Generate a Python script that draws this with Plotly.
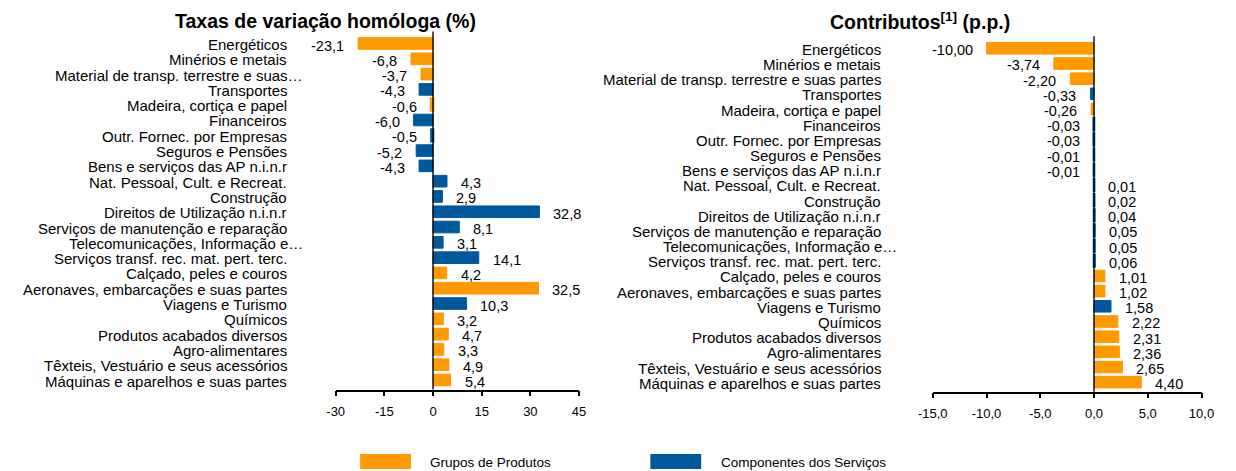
import plotly.graph_objects as go

# ---------------- data ----------------
categories = [
    "Energéticos", "Minérios e metais", "Material de transp. terrestre e suas partes",
    "Transportes", "Madeira, cortiça e papel", "Financeiros", "Outr. Fornec. por Empresas",
    "Seguros e Pensões", "Bens e serviços das AP n.i.n.r", "Nat. Pessoal, Cult. e Recreat.",
    "Construção", "Direitos de Utilização n.i.n.r", "Serviços de manutenção e reparação",
    "Telecomunicações, Informação e Informática", "Serviços transf. rec. mat. pert. terc.",
    "Calçado, peles e couros", "Aeronaves, embarcações e suas partes", "Viagens e Turismo",
    "Químicos", "Produtos acabados diversos", "Agro-alimentares",
    "Têxteis, Vestuário e seus acessórios", "Máquinas e aparelhos e suas partes",
]
left_labels = [
    "Energéticos", "Minérios e metais", "Material de transp. terrestre e suas…",
    "Transportes", "Madeira, cortiça e papel", "Financeiros", "Outr. Fornec. por Empresas",
    "Seguros e Pensões", "Bens e serviços das AP n.i.n.r", "Nat. Pessoal, Cult. e Recreat.",
    "Construção", "Direitos de Utilização n.i.n.r", "Serviços de manutenção e reparação",
    "Telecomunicações, Informação e…", "Serviços transf. rec. mat. pert. terc.",
    "Calçado, peles e couros", "Aeronaves, embarcações e suas partes", "Viagens e Turismo",
    "Químicos", "Produtos acabados diversos", "Agro-alimentares",
    "Têxteis, Vestuário e seus acessórios", "Máquinas e aparelhos e suas partes",
]
right_labels = [
    "Energéticos", "Minérios e metais", "Material de transp. terrestre e suas partes",
    "Transportes", "Madeira, cortiça e papel", "Financeiros", "Outr. Fornec. por Empresas",
    "Seguros e Pensões", "Bens e serviços das AP n.i.n.r", "Nat. Pessoal, Cult. e Recreat.",
    "Construção", "Direitos de Utilização n.i.n.r", "Serviços de manutenção e reparação",
    "Telecomunicações, Informação e…", "Serviços transf. rec. mat. pert. terc.",
    "Calçado, peles e couros", "Aeronaves, embarcações e suas partes", "Viagens e Turismo",
    "Químicos", "Produtos acabados diversos", "Agro-alimentares",
    "Têxteis, Vestuário e seus acessórios", "Máquinas e aparelhos e suas partes",
]
# P = Grupos de Produtos, S = Componentes dos Serviços
groups = ["P", "P", "P", "S", "P", "S", "S", "S", "S", "S", "S", "S", "S", "S", "S",
          "P", "P", "S", "P", "P", "P", "P", "P"]
taxas = [-23.1, -6.8, -3.7, -4.3, -0.6, -6.0, -0.5, -5.2, -4.3, 4.3, 2.9, 32.8, 8.1,
         3.1, 14.1, 4.2, 32.5, 10.3, 3.2, 4.7, 3.3, 4.9, 5.4]
contributos = [-10.00, -3.74, -2.20, -0.33, -0.26, -0.03, -0.03, -0.01, -0.01, 0.01,
               0.02, 0.04, 0.05, 0.05, 0.06, 1.01, 1.02, 1.58, 2.22, 2.31, 2.36, 2.65, 4.40]
left_ticks = [-30, -15, 0, 15, 30, 45]
right_ticks = [-15.0, -10.0, -5.0, 0.0, 5.0, 10.0]
series_names = {"P": "Grupos de Produtos", "S": "Componentes dos Serviços"}
colors = {"P": "#FF9900", "S": "#00589C"}

# The page body has an 8px margin: the figure starts at page (8, 8).
OFF = 8
W, H = 1236 - OFF, 471 - OFF
FONT = "Liberation Sans, Arial, sans-serif"


def px_x(p):  # page pixel -> paper x
    return (p - OFF) / W


def px_y(p):  # page pixel -> paper y
    return (471 - p) / H


def fmt(v, d):
    return f"{v:.{d}f}".replace(".", ",")


fig = go.Figure()

for xa, ya, vals, unit in (("x", "y", taxas, 1.0), ("x2", "y2", contributos, 0.1)):
    for g in ("P", "S"):
        ys = [c for c, gg in zip(categories, groups) if gg == g]
        xs = [v for v, gg in zip(vals, groups) if gg == g]
        # very small bars get a thin outline so they stay visible (as in the original)
        lw = [2.6 if abs(v) < unit else 1.0 for v in xs]
        fig.add_trace(go.Bar(
            x=xs, y=ys, orientation="h", name=series_names[g],
            marker=dict(color=colors[g], line=dict(color=colors[g], width=lw)),
            xaxis=xa, yaxis=ya, showlegend=False, hoverinfo="x+y",
        ))

annotations = []
# category labels
for ref, yref, labels, shift in (("x", "y", left_labels, -47), ("x2", "y2", right_labels, -50)):
    for c, lab in zip(categories, labels):
        extra = 16 if lab.endswith("…") else 0
        annotations.append(dict(
            xref=f"{ref} domain", yref=yref, x=0, y=c, text=lab, showarrow=False,
            xanchor="right", yanchor="middle", xshift=shift + extra, yshift=-1,
            font=dict(family=FONT, size=15, color="#000000"),
        ))

# data labels
for ref, yref, vals, d in (("x", "y", taxas, 1), ("x2", "y2", contributos, 2)):
    for c, v in zip(categories, vals):
        annotations.append(dict(
            xref=ref, yref=yref, x=v, y=c, text=fmt(v, d), showarrow=False,
            xanchor="left" if v >= 0 else "right", yanchor="middle",
            xshift=12 if v >= 0 else -12, yshift=-2,
            font=dict(family=FONT, size=14.5, color="#000000"),
        ))

# titles
annotations.append(dict(
    xref="paper", yref="paper", x=px_x(318), y=px_y(21),
    text="<b>Taxas de variação homóloga (%)</b>",
    showarrow=False, xanchor="center", yanchor="middle",
    font=dict(family=FONT, size=19.5, color="#000000")))
annotations.append(dict(
    xref="paper", yref="paper", x=px_x(926), y=px_y(21),
    text="<b>Contributos<sup>[1]</sup> (p.p.)</b>",
    showarrow=False, xanchor="center", yanchor="middle",
    font=dict(family=FONT, size=19.5, color="#000000")))

# legend
shapes = []
for x0, g, tx in ((353, "P", 422), (650, "S", 720)):
    shapes.append(dict(type="rect", xref="paper", yref="paper",
                       x0=px_x(x0), x1=px_x(x0 + 52), y0=px_y(469), y1=px_y(454),
                       fillcolor=colors[g], line=dict(width=0)))
    annotations.append(dict(
        xref="paper", yref="paper", x=px_x(tx), y=px_y(462), text=series_names[g],
        showarrow=False, xanchor="left", yanchor="middle",
        font=dict(family=FONT, size=13.5, color="#000000")))

# zero lines on top of bars
for ref, yref in (("x", "y"), ("x2", "y2")):
    shapes.append(dict(type="line", xref=ref, yref=f"{yref} domain", x0=0, x1=0, y0=0, y1=1,
                       line=dict(color="#000000", width=1.4), layer="above"))

axis_common = dict(showgrid=False, zeroline=False, showline=True, linecolor="#000000",
                   linewidth=1.5, ticks="outside", ticklen=5, tickwidth=1.5,
                   tickcolor="#000000", tickfont=dict(family=FONT, size=13, color="#000000"),
                   ticklabelstandoff=4, fixedrange=True)
yaxis_common = dict(type="category", categoryorder="array", categoryarray=categories,
                    autorange="reversed", showticklabels=False, showgrid=False,
                    zeroline=False, showline=False, ticks="", fixedrange=True)

fig.update_layout(
    width=W, height=H, margin=dict(l=0, r=0, t=0, b=0),
    paper_bgcolor="white", plot_bgcolor="white",
    barmode="relative", bargap=0.24,
    showlegend=False,
    xaxis=dict(domain=[px_x(328), px_x(577)], range=[-30, 45], tickvals=left_ticks,
               ticktext=[str(t) for t in left_ticks], anchor="y", **axis_common),
    yaxis=dict(domain=[px_y(389.5), px_y(31.5)], anchor="x", **yaxis_common),
    xaxis2=dict(domain=[px_x(939), px_x(1214)], range=[-15, 10], tickvals=right_ticks,
                ticktext=[fmt(t, 1) for t in right_ticks], anchor="y2", **axis_common),
    yaxis2=dict(domain=[px_y(391.7), px_y(36.3)], anchor="x2", **yaxis_common),
    annotations=annotations, shapes=shapes,
)

fig.write_html("out.html")
